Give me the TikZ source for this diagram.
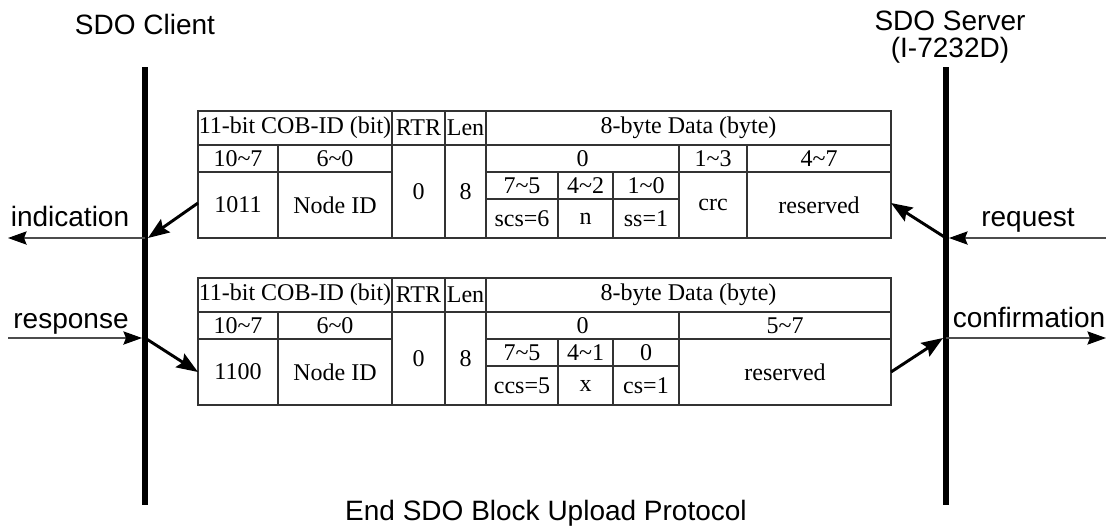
\documentclass[tikz,border=0pt]{standalone}
\usepackage{fontspec}
\setmainfont{Liberation Serif}
\newfontfamily\arialf{Liberation Sans}
\usetikzlibrary{arrows.meta,calc}
\newcommand\tcell[6]{\draw[tline] (#2,#3) rectangle (#4,#5);
  \node[ctext] (#1) at ($(#2,#3)!0.5!(#4,#5)$) {#6};}
\newcommand\tl{\textasciitilde}
\begin{document}
\begin{tikzpicture}[x=0.75pt,y=-0.75pt,
  tline/.style={draw=black!80, line width=0.9pt},
  ctext/.style={font=\fontsize{18pt}{20pt}\selectfont, inner sep=0pt},
  lab/.style={font=\arialf\fontsize{21pt}{24pt}\selectfont, inner sep=0pt},
  bar/.style={line width=4.5pt},
  harrow/.style={draw=black!70, line width=0.8pt, -{Stealth[length=14pt,width=10pt,inset=2pt,color=black]}},
  darrow/.style={line width=2.2pt, -{Stealth[length=16pt,width=12pt,inset=2.5pt]}}
]
\useasboundingbox (0,0) rectangle (1106,526);

% headings
\node[lab] (client) at (145,24) {SDO Client};
\node[lab] (server) at (950,21) {SDO Server};
\node[lab] (serverid) at (950,50) {(I-7232D)};
\node[lab, anchor=base] (caption) at (546,520) {End SDO Block Upload Protocol};

% bars
\coordinate (ctop) at (145,67);
\coordinate (cbot) at (145,505);
\coordinate (stop) at (946,67);
\coordinate (sbot) at (946,505);
\draw[bar] (ctop) -- (cbot);
\draw[bar] (stop) -- (sbot);

% top table
\tcell{a1}{198}{111}{392}{145}{11-bit COB-ID (bit)}
\tcell{a2}{392}{111}{445}{145}{RTR}
\tcell{a3}{445}{111}{486}{145}{Len}
\tcell{a4}{486}{111}{891}{145}{8-byte Data (byte)}
\tcell{a5}{198}{145}{278}{172}{10\tl7}
\tcell{a6}{278}{145}{392}{172}{6\tl0}
\tcell{a7}{392}{145}{445}{238}{0}
\tcell{a8}{445}{145}{486}{238}{8}
\tcell{a9}{486}{145}{679}{172}{0}
\tcell{a10}{679}{145}{747}{172}{1\tl3}
\tcell{a11}{747}{145}{891}{172}{4\tl7}
\tcell{a12}{198}{172}{278}{238}{1011}
\tcell{a13}{278}{172}{392}{238}{Node ID}
\tcell{a14}{486}{172}{558}{199}{7\tl5}
\tcell{a15}{558}{172}{613}{199}{4\tl2}
\tcell{a16}{613}{172}{679}{199}{1\tl0}
\tcell{a17}{486}{199}{558}{238}{scs=6}
\tcell{a18}{558}{199}{613}{238}{n}
\tcell{a19}{613}{199}{679}{238}{ss=1}
\tcell{a20}{679}{172}{747}{238}{crc}
\tcell{a21}{747}{172}{891}{238}{reserved}

% bottom table
\tcell{b1}{198}{278}{392}{312}{11-bit COB-ID (bit)}
\tcell{b2}{392}{278}{445}{312}{RTR}
\tcell{b3}{445}{278}{486}{312}{Len}
\tcell{b4}{486}{278}{891}{312}{8-byte Data (byte)}
\tcell{b5}{198}{312}{278}{339}{10\tl7}
\tcell{b6}{278}{312}{392}{339}{6\tl0}
\tcell{b7}{392}{312}{445}{405}{0}
\tcell{b8}{445}{312}{486}{405}{8}
\tcell{b9}{486}{312}{679}{339}{0}
\tcell{b10}{679}{312}{891}{339}{5\tl7}
\tcell{b12}{198}{339}{278}{405}{1100}
\tcell{b13}{278}{339}{392}{405}{Node ID}
\tcell{b14}{486}{339}{558}{366}{7\tl5}
\tcell{b15}{558}{339}{613}{366}{4\tl1}
\tcell{b16}{613}{339}{679}{366}{0}
\tcell{b17}{486}{366}{558}{405}{ccs=5}
\tcell{b18}{558}{366}{613}{405}{x}
\tcell{b19}{613}{366}{679}{405}{cs=1}
\tcell{b21}{679}{339}{891}{405}{reserved}

% connector points
\coordinate (cind) at (145,238);
\coordinate (cindR) at (148,238);
\coordinate (indEnd) at (8,238);
\coordinate (resStart) at (8,338);
\coordinate (cresL) at (142,338);
\coordinate (cres) at (145,338);
\coordinate (sreq) at (946,238);
\coordinate (sreqR) at (949,238);
\coordinate (reqStart) at (1106,238);
\coordinate (scon) at (946,338);
\coordinate (sconL) at (943,338);
\coordinate (conEnd) at (1106,338);
\coordinate (tIn) at (198,203);
\coordinate (tOut) at (891,203);
\coordinate (bIn) at (198,372);
\coordinate (bOut) at (891,372);

% arrows
\draw[harrow] (cind) -- (indEnd);
\draw[darrow] (tIn) -- (cindR);
\draw[harrow] (resStart) -- (cresL);
\draw[darrow] (cres) -- (bIn);
\draw[harrow] (reqStart) -- (sreqR);
\draw[darrow] (sreq) -- (tOut);
\draw[darrow] (bOut) -- (sconL);
\draw[harrow] (scon) -- (conEnd);

% labels
\node[lab, anchor=base] (lind) at (70,226) {indication};
\node[lab, anchor=base] (lres) at (71,328) {response};
\node[lab, anchor=base] (lreq) at (1028,226) {request};
\node[lab, anchor=base] (lcon) at (1029,327) {confirmation};
\end{tikzpicture}
\end{document}
